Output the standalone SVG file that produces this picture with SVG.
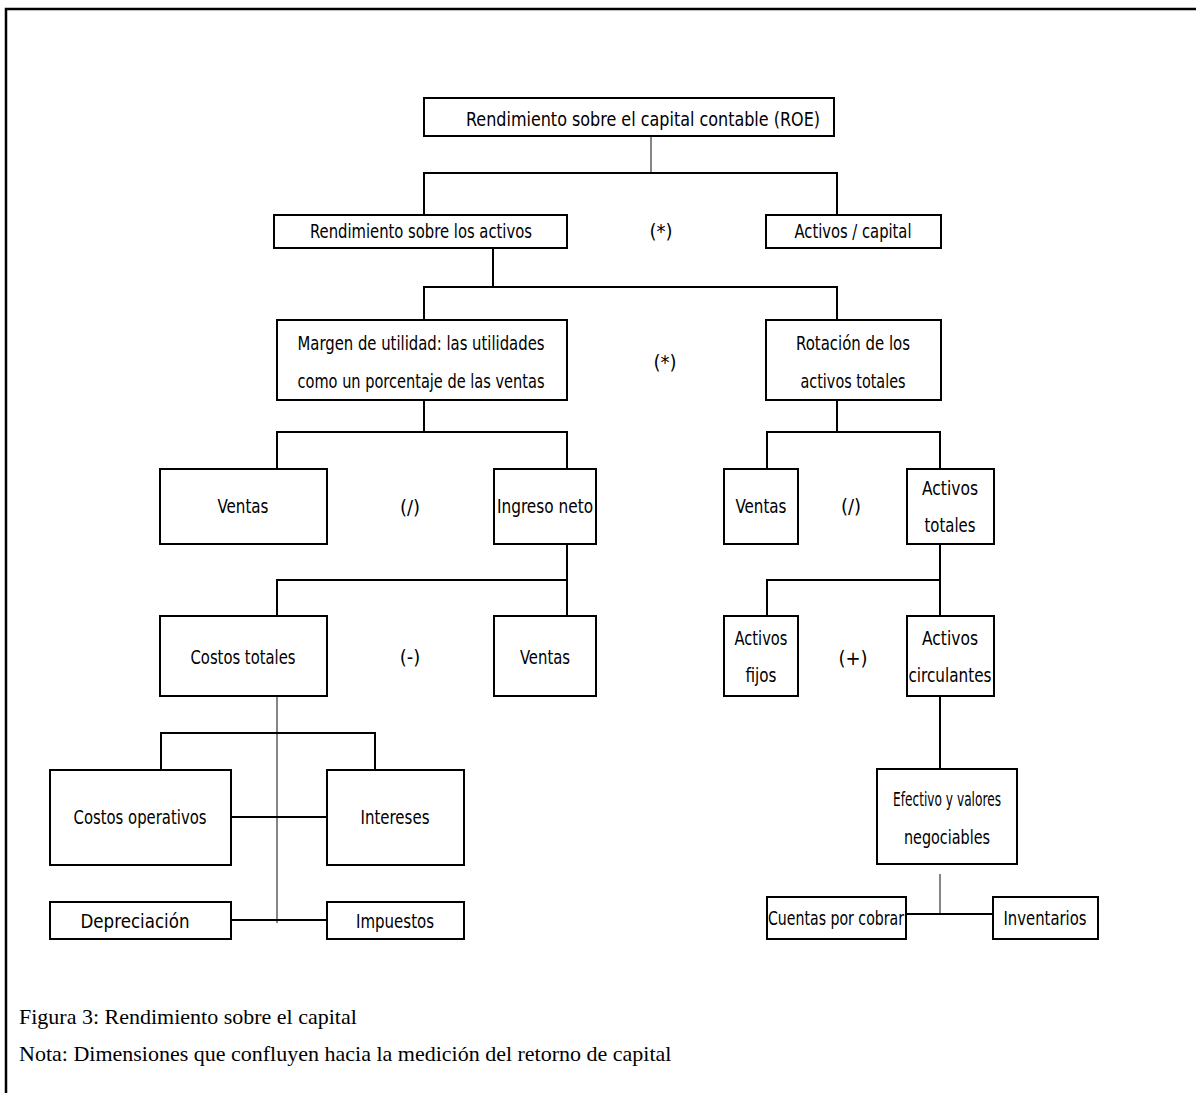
<svg xmlns="http://www.w3.org/2000/svg" width="1196" height="1093" viewBox="0 0 1196 1093">
<style>
.box{fill:#fff;stroke:#000;stroke-width:2}
.c{fill:none;stroke:#000;stroke-width:2}
.t{fill:none;stroke:#444;stroke-width:1.3}
text{font-family:"Liberation Sans Narrow","DejaVu Sans Condensed","Liberation Sans",sans-serif;font-size:20px;fill:#000;text-anchor:middle}
.cap{font-family:"Liberation Serif","Times New Roman",serif;font-size:22px;text-anchor:start}
</style>
<rect width="1196" height="1093" fill="#fff"/>
<path d="M6,1093 V9 H1196" fill="none" stroke="#000" stroke-width="2.5"/>
<g id="connectors">
<path class="t" d="M651,136 V173"/>
<path class="c" d="M424,215 V173 H837 V215"/>
<path class="c" d="M493,248 V287"/>
<path class="c" d="M424,320 V287 H837 V320"/>
<path class="c" d="M424,400 V432"/>
<path class="c" d="M277,469 V432 H567 V469"/>
<path class="c" d="M837,400 V432"/>
<path class="c" d="M767,469 V432 H940 V469"/>
<path class="c" d="M567,544 V580"/>
<path class="c" d="M277,616 V580 H567 V616"/>
<path class="c" d="M940,544 V580"/>
<path class="c" d="M767,616 V580 H940 V616"/>
<path class="c" d="M940,696 V769"/>
<path class="t" d="M940,874 V914"/>
<path class="c" d="M906,914 H993"/>
<path class="t" d="M277,696 V923"/>
<path class="c" d="M161,770 V733 H375 V770"/>
<path class="c" d="M231,817 H327"/>
<path class="c" d="M231,920 H327"/>
</g>
<g id="n-roe"><rect class="box" x="424" y="98" width="410" height="38"/><text x="643" y="126" textLength="354" lengthAdjust="spacingAndGlyphs">Rendimiento sobre el capital contable (ROE)</text></g>
<g id="n-rsa"><rect class="box" x="274" y="215" width="293" height="33"/><text x="421" y="238" textLength="222" lengthAdjust="spacingAndGlyphs">Rendimiento sobre los activos</text></g>
<g id="op1"><text x="661" y="238">(*)</text></g>
<g id="n-ac"><rect class="box" x="766" y="215" width="175" height="33"/><text x="853" y="238" textLength="117" lengthAdjust="spacingAndGlyphs">Activos / capital</text></g>
<g id="n-margen"><rect class="box" x="277" y="320" width="290" height="80"/><text x="421" y="350" textLength="247" lengthAdjust="spacingAndGlyphs">Margen de utilidad: las utilidades</text><text x="421" y="388" textLength="247" lengthAdjust="spacingAndGlyphs">como un porcentaje de las ventas</text></g>
<g id="op2"><text x="665" y="369">(*)</text></g>
<g id="n-rot"><rect class="box" x="766" y="320" width="175" height="80"/><text x="853" y="350" textLength="114" lengthAdjust="spacingAndGlyphs">Rotación de los</text><text x="853" y="388" textLength="105" lengthAdjust="spacingAndGlyphs">activos totales</text></g>
<g id="n-ventas1"><rect class="box" x="160" y="469" width="167" height="75"/><text x="243" y="513" textLength="51" lengthAdjust="spacingAndGlyphs">Ventas</text></g>
<g id="op3"><text x="410" y="514">(/)</text></g>
<g id="n-ingreso"><rect class="box" x="494" y="469" width="102" height="75"/><text x="545" y="513" textLength="96" lengthAdjust="spacingAndGlyphs">Ingreso neto</text></g>
<g id="n-costos"><rect class="box" x="160" y="616" width="167" height="80"/><text x="243" y="664" textLength="105" lengthAdjust="spacingAndGlyphs">Costos totales</text></g>
<g id="op4"><text x="410" y="664">(-)</text></g>
<g id="n-ventas2"><rect class="box" x="494" y="616" width="102" height="80"/><text x="545" y="664" textLength="50" lengthAdjust="spacingAndGlyphs">Ventas</text></g>
<g id="n-ventas3"><rect class="box" x="724" y="469" width="74" height="75"/><text x="761" y="513" textLength="51" lengthAdjust="spacingAndGlyphs">Ventas</text></g>
<g id="op5"><text x="851" y="513">(/)</text></g>
<g id="n-acttot"><rect class="box" x="907" y="469" width="87" height="75"/><text x="950" y="495" textLength="56" lengthAdjust="spacingAndGlyphs">Activos</text><text x="950" y="532" textLength="51" lengthAdjust="spacingAndGlyphs">totales</text></g>
<g id="n-actfijos"><rect class="box" x="724" y="616" width="74" height="80"/><text x="761" y="645" textLength="53" lengthAdjust="spacingAndGlyphs">Activos</text><text x="761" y="682" textLength="31" lengthAdjust="spacingAndGlyphs">fijos</text></g>
<g id="op6"><text x="853" y="665">(+)</text></g>
<g id="n-actcirc"><rect class="box" x="907" y="616" width="87" height="80"/><text x="950" y="645" textLength="56" lengthAdjust="spacingAndGlyphs">Activos</text><text x="950" y="682" textLength="83" lengthAdjust="spacingAndGlyphs">circulantes</text></g>
<g id="n-efectivo"><rect class="box" x="877" y="769" width="140" height="95"/><text x="947" y="806" textLength="108" lengthAdjust="spacingAndGlyphs">Efectivo y valores</text><text x="947" y="844" textLength="86" lengthAdjust="spacingAndGlyphs">negociables</text></g>
<g id="n-cuentas"><rect class="box" x="767" y="897" width="139" height="42"/><text x="836" y="925" textLength="136" lengthAdjust="spacingAndGlyphs">Cuentas por cobrar</text></g>
<g id="n-inventarios"><rect class="box" x="993" y="897" width="105" height="42"/><text x="1045" y="925" textLength="83" lengthAdjust="spacingAndGlyphs">Inventarios</text></g>
<g id="n-costosop"><rect class="box" x="50" y="770" width="181" height="95"/><text x="140" y="824" textLength="133" lengthAdjust="spacingAndGlyphs">Costos operativos</text></g>
<g id="n-intereses"><rect class="box" x="327" y="770" width="137" height="95"/><text x="395" y="824" textLength="69" lengthAdjust="spacingAndGlyphs">Intereses</text></g>
<g id="n-depreciacion"><rect class="box" x="50" y="902" width="181" height="37"/><text x="135" y="928" textLength="109" lengthAdjust="spacingAndGlyphs">Depreciación</text></g>
<g id="n-impuestos"><rect class="box" x="327" y="902" width="137" height="37"/><text x="395" y="928" textLength="78" lengthAdjust="spacingAndGlyphs">Impuestos</text></g>
<g id="caption">
<text class="cap" x="19" y="1024">Figura 3: Rendimiento sobre el capital</text>
<text class="cap" x="19" y="1061">Nota: Dimensiones que confluyen hacia la medición del retorno de capital</text>
</g>
</svg>
